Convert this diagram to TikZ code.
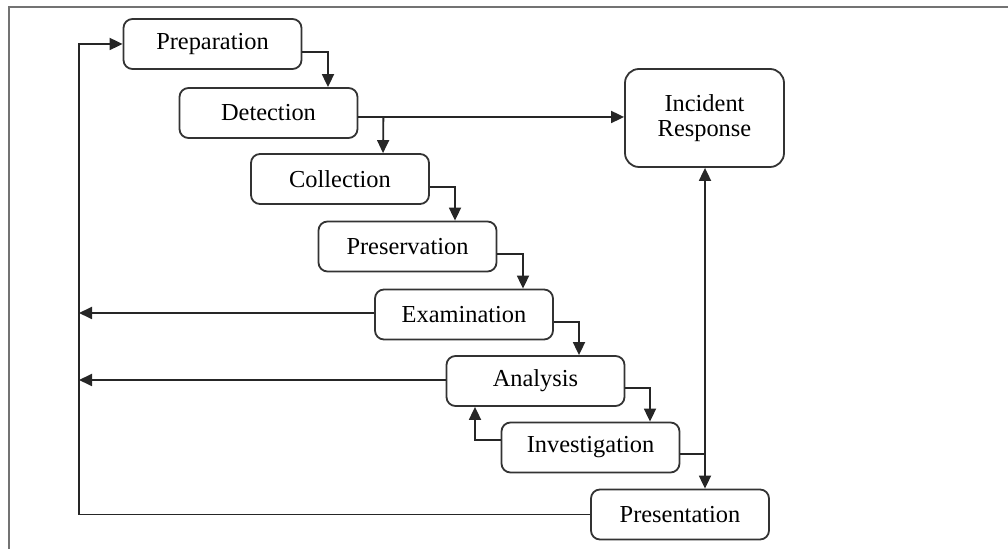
\documentclass[tikz,border=0pt]{standalone}
\usepackage{fontspec}
\setmainfont{Liberation Serif}
\usetikzlibrary{arrows.meta,calc}
\begin{document}
\begin{tikzpicture}[x=0.5pt,y=-0.5pt,
  phase/.style={draw=black!80, line width=0.9pt, rounded corners=4.5pt,
    minimum width=89pt, minimum height=25pt, inner sep=0pt,
    font=\fontsize{12.2}{13.5}\selectfont, align=center},
  link/.style={line width=0.9pt, draw=black!85},
  tip/.style={-{Triangle[length=6.5pt,width=6pt]}},
  frameline/.style={line width=0.8pt, draw=black!55}]
\useasboundingbox (0,0) rectangle (1008,549);

% outer frame (open at the right and bottom)
\draw[frameline] (9,549) -- (9,7) -- (1008,7);

% process phases
\node[phase] (prep) at (212.5,44)  {Preparation};
\node[phase] (det)  at (268.5,113) {Detection};
\node[phase] (coll) at (340,179)   {Collection};
\node[phase] (pres) at (407.5,246.5) {Preservation};
\node[phase] (exam) at (464,314.5) {Examination};
\node[phase] (ana)  at (535.5,381) {Analysis};
\node[phase] (inv)  at (590.5,447.5) {Investigation};
\node[phase] (prst) at (680,514.5) {Presentation};
\node[phase, minimum width=79.5pt, minimum height=49pt, rounded corners=7pt] (ir) at (704.5,118) {Incident\\[-1pt]Response};

% left return bus and incident response link
\coordinate (busx) at (79,0);
\coordinate (irx) at (705,0);
\coordinate (detout) at ($(det.east)+(0,4)$);

% step-down connectors
\draw[link,tip] ($(prep.east)+(0,8)$) -| ($(det.north)+(59.5,0)$);
\draw[link,tip] (detout) -- (ir.west |- detout);
\draw[link,tip] ($(detout)+(25,0)$) -- ($(coll.north)+(43,0)$);
\draw[link,tip] ($(coll.east)+(0,8)$) -| ($(pres.north)+(47.5,0)$);
\draw[link,tip] ($(pres.east)+(0,7.5)$) -| ($(exam.north)+(59,0)$);
\draw[link,tip] ($(exam.east)+(0,7.5)$) -| ($(ana.north)+(43.5,0)$);
\draw[link,tip] ($(ana.east)+(0,7)$) -| ($(inv.north)+(59.5,0)$);
\draw[link,tip] ($(inv.west)+(0,-7.5)$) -| ($(ana.south)+(-60.5,0)$);

% returns to the left bus
\draw[link,tip] ($(exam.west)+(0,-1.5)$) -- (busx |- {$(exam.west)+(0,-1.5)$});
\draw[link,tip] ($(ana.west)+(0,-1)$) -- (busx |- {$(ana.west)+(0,-1)$});
\draw[link,tip] (prst.west) -| (busx |- prep.west) -- (prep.west);

% incident response link
\draw[link,{Triangle[length=6.5pt,width=6pt]}-{Triangle[length=6.5pt,width=6pt]}]
  (irx |- ir.south) -- (irx |- prst.north);
\draw[link] ($(inv.east)+(0,6.5)$) -- (irx |- {$(inv.east)+(0,6.5)$});
\end{tikzpicture}
\end{document}
